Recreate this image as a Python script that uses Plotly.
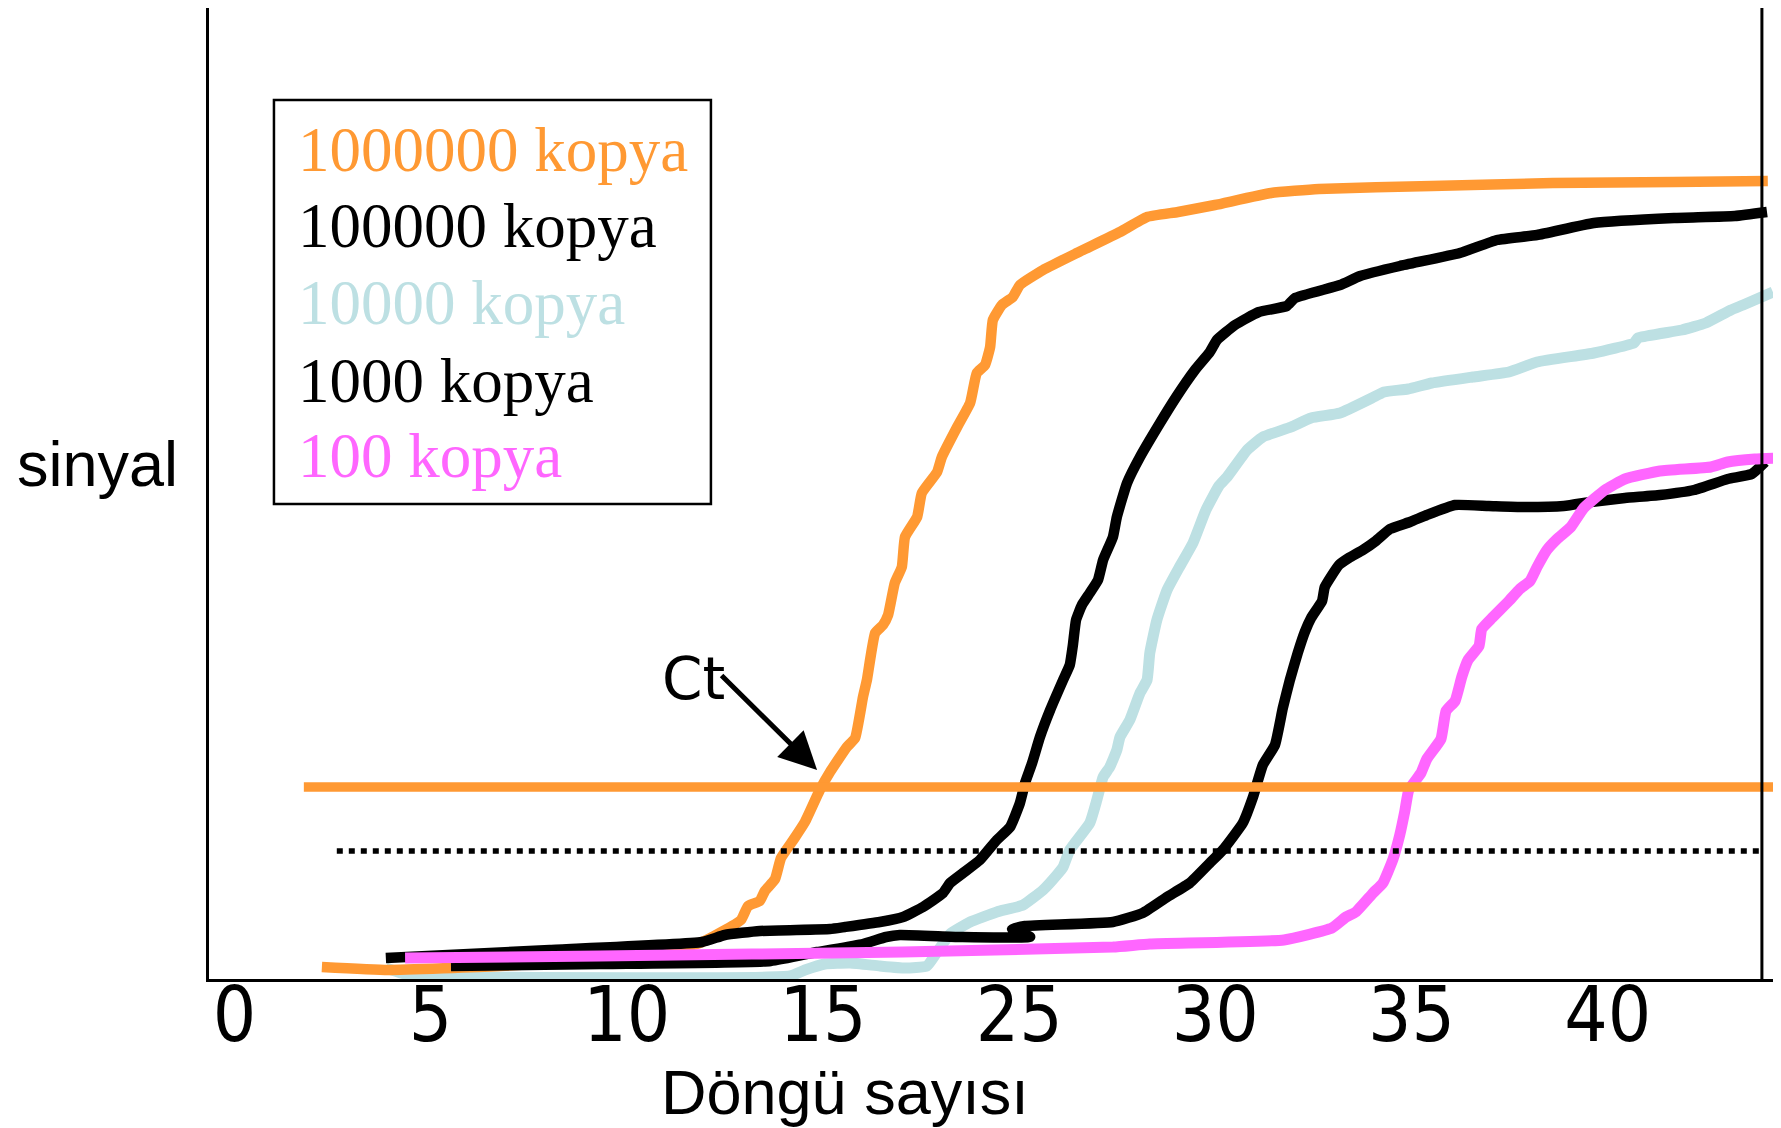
import plotly.graph_objects as go

# ---------------- data (axis units) ----------------
tick_positions = [0, 5, 10, 15, 20, 25, 30, 35]
tick_labels = ["0", "5", "10", "15", "25", "30", "35", "40"]

series_names = ["1000000 kopya", "100000 kopya", "10000 kopya", "1000 kopya", "100 kopya"]

x_1000000 = [2.23, 3.91, 6.77, 9.32, 10.59, 11.92, 12.91, 13.09, 13.39, 13.52, 13.78, 13.93, 14.26, 14.54,
             14.92, 15.18, 15.61, 15.82, 16.02, 16.12, 16.33, 16.53, 16.66, 16.83, 17.01, 17.09, 17.40, 17.52,
             17.91, 18.03, 18.42, 18.75, 18.92, 19.13, 19.26, 19.33, 19.56, 19.84, 20.02, 20.61, 21.47, 22.57,
             23.26, 24.05, 24.99, 26.42, 27.64, 30.52, 33.60, 36.69, 39.08]
y_1000000 = [1.2, 0.9, 1.3, 1.9, 2.4, 3.7, 5.9, 7.3, 7.8, 8.8, 10.0, 12.1, 14.0, 15.7,
             18.9, 20.7, 23.2, 24.1, 28.2, 29.9, 34.6, 35.4, 36.4, 39.6, 41.2, 44.2, 46.2, 48.6,
             50.7, 52.2, 55.2, 57.6, 60.6, 61.4, 63.2, 65.9, 67.4, 68.2, 69.4, 70.9, 72.6, 74.7,
             76.2, 76.7, 77.4, 78.6, 79.0, 79.3, 79.6, 79.7, 79.8]

x_100000 = [3.86, 8.04, 11.92, 12.50, 13.39, 15.18, 15.56, 16.45, 17.04, 17.55, 18.06, 18.24, 18.57, 19.00,
            19.43, 19.77, 20.02, 20.15, 20.33, 20.53, 20.79, 21.12, 21.29, 21.37, 21.45, 21.60, 21.80, 22.01,
            22.14, 22.39, 22.49, 22.75, 23.08, 23.59, 24.02, 24.48, 24.86, 25.04, 25.50, 26.11, 26.82, 27.03,
            28.18, 28.69, 29.70, 31.23, 32.18, 33.20, 34.65, 36.69, 38.24, 39.06]
y_100000 = [2.1, 2.9, 3.7, 4.4, 4.8, 5.0, 5.2, 5.7, 6.2, 7.2, 8.6, 9.6, 10.6, 11.9,
            13.9, 15.2, 17.6, 19.6, 21.6, 24.2, 26.9, 29.9, 31.4, 33.4, 35.9, 37.4, 38.6, 39.9,
            41.9, 44.2, 46.2, 49.6, 52.2, 55.6, 58.3, 60.9, 62.7, 63.9, 65.4, 66.7, 67.3, 68.1,
            69.4, 70.3, 71.3, 72.6, 73.9, 74.4, 75.6, 76.1, 76.3, 76.7]

x_10000 = [3.86, 4.53, 5.75, 14.16, 14.54, 15.05, 15.69, 16.45, 17.09, 17.65, 17.91, 18.24, 18.75, 19.43,
           20.10, 20.61, 20.96, 21.12, 21.29, 21.80, 21.98, 22.14, 22.31, 22.49, 22.57, 22.82, 23.08, 23.26,
           23.33, 23.51, 23.77, 24.10, 24.43, 24.76, 25.09, 25.30, 25.81, 26.21, 26.93, 27.44, 28.18, 28.99,
           29.30, 29.91, 30.52, 31.56, 32.48, 33.20, 34.65, 35.67, 35.77, 36.89, 37.50, 38.14, 38.45, 39.21]
y_10000 = [1.1, 0.3, 0.2, 0.3, 0.9, 1.5, 1.6, 1.3, 1.1, 1.3, 2.7, 4.5, 5.7, 6.7,
           7.4, 8.9, 10.4, 11.2, 12.9, 15.6, 17.9, 20.2, 21.2, 22.9, 24.2, 25.9, 28.6, 29.9,
           32.6, 35.9, 38.9, 41.3, 43.6, 46.9, 49.3, 50.2, 52.9, 54.2, 55.2, 56.1, 56.6, 58.1,
           58.7, 59.0, 59.6, 60.2, 60.7, 61.7, 62.6, 63.6, 64.1, 64.9, 65.6, 66.9, 67.4, 68.7]

x_1000 = [5.52, 9.32, 13.67, 14.85, 16.02, 16.61, 16.96, 18.49, 20.28, 19.82, 20.15, 22.39, 23.15, 23.77,
          24.35, 24.86, 25.19, 25.70, 25.96, 26.21, 26.52, 26.72, 26.90, 27.10, 27.28, 27.44, 27.72, 27.79,
          28.15, 28.40, 28.76, 29.09, 29.45, 29.96, 30.39, 31.11, 31.97, 32.84, 33.88, 34.57, 35.44, 36.33,
          37.20, 38.06, 38.67, 39.01]
y_1000 = [1.3, 1.5, 1.8, 2.7, 3.5, 4.2, 4.4, 4.2, 4.2, 5.0, 5.3, 5.7, 6.6, 8.2,
          9.6, 11.6, 12.9, 15.6, 18.2, 21.4, 23.4, 27.1, 29.9, 32.6, 34.7, 36.1, 37.8, 39.2,
          41.4, 42.1, 42.9, 43.8, 45.0, 45.7, 46.4, 47.4, 47.3, 47.2, 47.3, 47.7, 48.1, 48.4,
          48.9, 50.0, 50.5, 51.7]

x_100 = [4.35, 9.32, 17.04, 22.39, 23.33, 26.75, 27.97, 28.33, 28.58, 29.02, 29.27, 29.53, 29.70, 29.83,
         29.93, 30.24, 30.39, 30.75, 30.88, 31.11, 31.28, 31.44, 31.72, 31.79, 32.05, 32.48, 32.76, 33.02,
         33.20, 33.45, 33.71, 34.06, 34.39, 34.93, 35.44, 36.33, 37.63, 38.06, 38.75, 39.36]
y_100 = [2.1, 2.3, 2.7, 3.2, 3.5, 3.9, 5.1, 6.2, 6.7, 8.6, 9.6, 12.0, 14.4, 16.8,
         18.9, 20.6, 22.0, 24.0, 26.8, 27.8, 30.2, 31.9, 33.3, 35.0, 36.1, 37.8, 39.0, 39.8,
         41.2, 42.9, 44.0, 45.2, 47.1, 48.9, 50.0, 50.8, 51.2, 51.7, 52.0, 52.1]

threshold_value = 19.2
threshold_start = 1.77
baseline_value = 12.8
baseline_span = [2.61, 38.93]
end_cycle = 38.93
ct_point = [14.85, 20.9]

# ---------------- styles ----------------
ORANGE = "#FF9933"
BLACK = "#000000"
LIGHTBLUE = "#BDE0E3"
MAGENTA = "#FF66FF"
series_colors = [ORANGE, BLACK, LIGHTBLUE, BLACK, MAGENTA]

X_RANGE = [-0.647, 39.34]
Y_RANGE = [0, 97.1]

fig = go.Figure()

# draw order: light blue, orange, 100000, 1000, magenta
draw = [
    (x_10000, y_10000, LIGHTBLUE, series_names[2], 11),
    (x_1000000, y_1000000, ORANGE, series_names[0], 10.5),
    (x_100000, y_100000, BLACK, series_names[1], 10.5),
    (x_1000, y_1000, BLACK, series_names[3], 10.5),
    (x_100, y_100, MAGENTA, series_names[4], 11),
]
for xs, ys, col, name, w in draw:
    fig.add_trace(go.Scatter(x=xs, y=ys, mode="lines", name=name,
                             line=dict(color=col, width=w, shape="spline", smoothing=0.4),
                             showlegend=False, hoverinfo="skip"))

# threshold lines
fig.add_shape(type="line", xref="x", yref="y", x0=threshold_start, x1=X_RANGE[1],
              y0=threshold_value, y1=threshold_value, line=dict(color=ORANGE, width=9.5))
fig.add_shape(type="line", xref="x", yref="y", x0=baseline_span[0], x1=baseline_span[1],
              y0=baseline_value, y1=baseline_value,
              line=dict(color=BLACK, width=5.5, dash="6px,6px"))
# right end vertical line
fig.add_shape(type="line", xref="x", yref="paper", x0=end_cycle, x1=end_cycle,
              y0=0, y1=1.01, line=dict(color=BLACK, width=3))

# legend box
fig.add_shape(type="rect", xref="paper", yref="paper", x0=0.0414, x1=0.3199,
              y0=0.4892, y1=0.9053, line=dict(color=BLACK, width=2.5), fillcolor="rgba(0,0,0,0)")
legend_y = [0.8538, 0.7755, 0.6962, 0.6159, 0.5386]
for name, col, yy in zip(series_names, series_colors, legend_y):
    fig.add_annotation(text=name, xref="paper", yref="paper", x=0.0552, y=yy,
                       xanchor="left", yanchor="middle", showarrow=False,
                       font=dict(family="Liberation Serif, Times New Roman, serif", size=63, color=col))

# Ct arrow and label
fig.add_annotation(x=ct_point[0], y=ct_point[1], xref="x", yref="y", text="",
                   showarrow=True, ax=-97, ay=-96, arrowhead=2, arrowsize=1.5,
                   arrowwidth=5, arrowcolor=BLACK, standoff=0)
fig.add_annotation(text="Ct", xref="paper", yref="paper", x=0.3090, y=0.3090,
                   xanchor="center", yanchor="middle", showarrow=False,
                   font=dict(family="DejaVu Sans", size=58, color=BLACK))

# axis titles as text
fig.add_annotation(text="sinyal", xref="paper", yref="paper", x=-0.071, y=0.5304,
                   xanchor="center", yanchor="middle", showarrow=False,
                   font=dict(family="Liberation Sans, Arial, sans-serif", size=63, color=BLACK))
fig.add_annotation(text="Döngü sayısı", xref="paper", yref="paper", x=0.4054, y=-0.1160,
                   xanchor="center", yanchor="middle", showarrow=False,
                   font=dict(family="Liberation Sans, Arial, sans-serif", size=63, color=BLACK))

fig.update_layout(
    width=1773, height=1120,
    margin=dict(l=201, r=3, t=0, b=149),
    paper_bgcolor="white", plot_bgcolor="white",
    showlegend=False,
    xaxis=dict(range=X_RANGE, showgrid=False, zeroline=False, showline=True,
               linecolor=BLACK, linewidth=3, ticks="", tickmode="array",
               tickvals=tick_positions, ticktext=tick_labels,
               tickfont=dict(family="DejaVu Sans Condensed, DejaVu Sans", size=76, color=BLACK),
               ticklabelstandoff=-32),
    yaxis=dict(range=Y_RANGE, showgrid=False, zeroline=False, showline=True,
               linecolor=BLACK, linewidth=3, ticks="", showticklabels=False),
)

fig.write_html("out.html")
